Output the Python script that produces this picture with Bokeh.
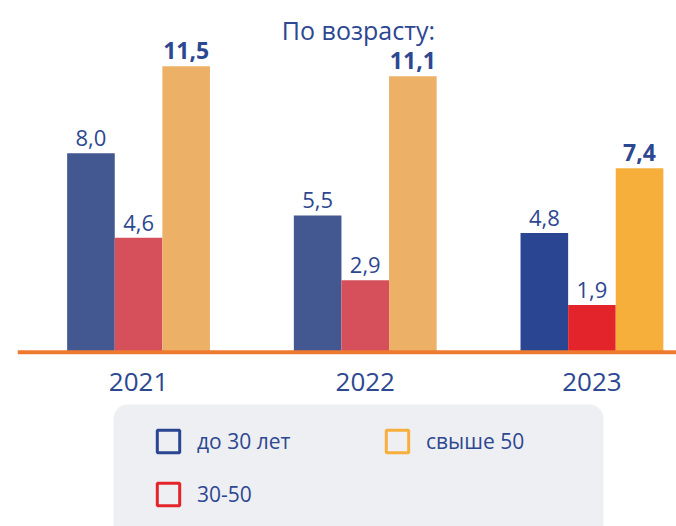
from bokeh.plotting import figure
from bokeh.models import ColumnDataSource, Range1d, Span, BoxAnnotation, Label, Legend, LegendItem
from bokeh.transform import dodge
from bokeh.core.properties import value
from bokeh.embed import file_html
from bokeh.resources import INLINE

# ---- data ----
years = ["2021", "2022", "2023"]
series_names = ["до 30 лет", "30-50", "свыше 50"]
under_30 = [8.0, 5.5, 4.8]
age_30_50 = [4.6, 2.9, 1.9]
over_50 = [11.5, 11.1, 7.4]

# ---- styles ----
under_30_colors = ["#435791", "#435791", "#2a4592"]
age_30_50_colors = ["#d6505b", "#d6505b", "#e3242b"]
over_50_colors = ["#ecb066", "#ecb066", "#f7af3c"]
legend_colors = ["#2a4592", "#e3242b", "#f7af3c"]
TEXT = "#2d4791"
FONT = "Open Sans"


def fmt(v):
    return f"{v:.1f}".replace(".", ",")


src = ColumnDataSource(dict(
    x=list(range(len(years))),
    year=years,
    u30=under_30, mid=age_30_50, o50=over_50,
    u30_c=under_30_colors, mid_c=age_30_50_colors, o50_c=over_50_colors,
    u30_l=[fmt(v) for v in under_30],
    mid_l=[fmt(v) for v in age_30_50],
    o50_l=[fmt(v) for v in over_50],
))

p = figure(width=676, height=526,
           x_range=Range1d(-0.534, 2.373), y_range=Range1d(-7.0, 14.14),
           x_axis_type=None, y_axis_type=None,
           output_backend="svg", toolbar_location=None,
           min_border=0, min_border_left=17)
p.grid.visible = False
p.outline_line_color = None

W = 0.21
series = [("u30", -W, "normal", "22px"), ("mid", 0.0, "normal", "22px"),
          ("o50", W, "bold", "23px")]
for key, off, style, size in series:
    p.vbar(x=dodge("x", off), top=key, bottom=0, width=W, source=src,
           fill_color=key + "_c", line_color=None)
    p.text(x=dodge("x", off), y=key, text=key + "_l", source=src,
           text_align="center", text_baseline="bottom", y_offset=-7,
           text_font=value(FONT), text_font_size=size,
           text_font_style=style, text_color=TEXT)

# baseline
p.add_layout(Span(location=0, dimension="width", line_color="#ee7a30", line_width=4))

# year labels
p.text(x="x", y=-1.21, text="year", source=src, text_align="center",
       text_baseline="middle", text_font=value(FONT), text_font_size="26px",
       text_color=TEXT)

# title
p.add_layout(Label(x=0.97, y=12.95, text="По возрасту:", text_align="center",
                   text_baseline="middle", text_font=FONT, text_font_size="25px",
                   text_color=TEXT))

# legend background
p.add_layout(BoxAnnotation(left=-0.110, right=2.051, top=-2.10, bottom=-8.0,
                           fill_color="#eeeff3", fill_alpha=1.0, line_color=None,
                           border_radius=14, level="underlay"))

items = []
for name, c in zip(series_names, legend_colors):
    r = p.rect(x=[-10], y=[-50], width=0.1, height=0.1, fill_color=None,
               line_color=c, line_width=3)
    items.append(LegendItem(label=name, renderers=[r]))

legend = Legend(items=items, location=(137, 18), ncols=2,
                glyph_width=28, glyph_height=28, label_standoff=15, spacing=25,
                label_width=161, padding=0, margin=0,
                background_fill_alpha=0, border_line_color=None,
                label_text_font=FONT, label_text_font_size="21px",
                label_text_color=TEXT)
p.add_layout(legend)

open("out.html", "w").write(file_html(p, INLINE))
